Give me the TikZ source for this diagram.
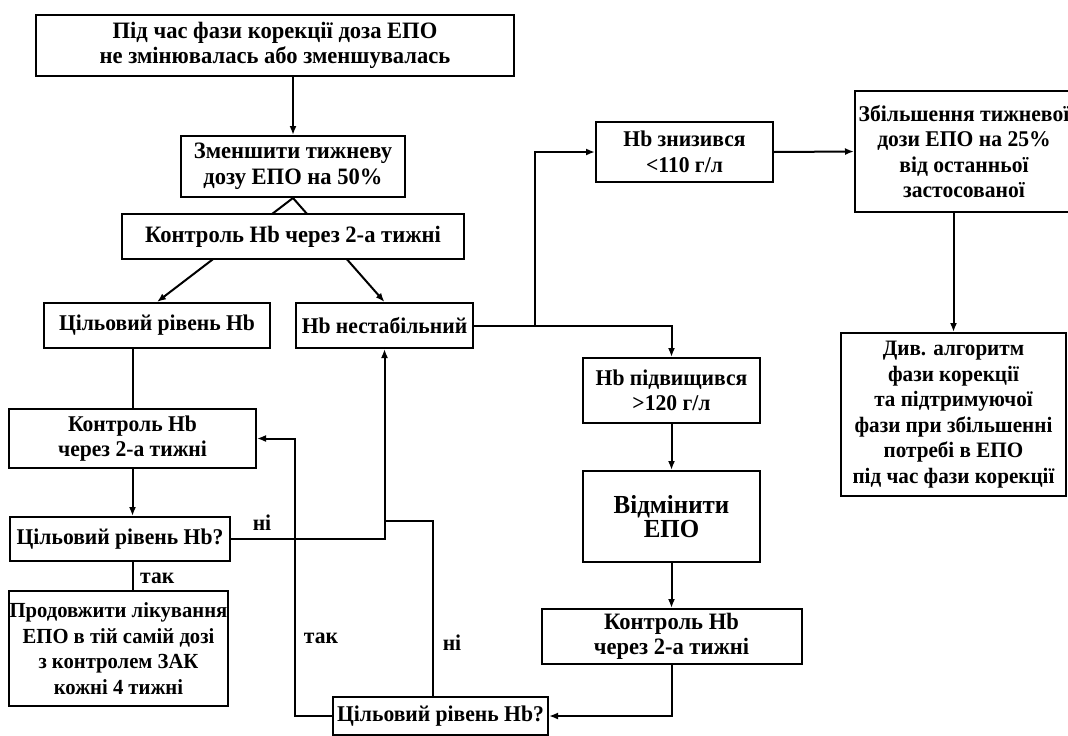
\documentclass[tikz,border=0pt]{standalone}
\usepackage{fontspec}
\setmainfont{Liberation Serif}[FakeStretch=0.96]
\usepackage{tikz}
\usetikzlibrary{arrows.meta, positioning, backgrounds}

\begin{document}
\begin{tikzpicture}[x=1pt, y=-1pt]
\tikzstyle{stepbox} = [rectangle, draw, fill=white, line width=2pt, align=center, inner sep=1pt, font=\bfseries\fontsize{22.5}{25.5}\selectfont]
\tikzstyle{bigtext} = [font=\bfseries\fontsize{23.5}{25.5}\selectfont]
\tikzstyle{arrow} = [line width=2pt, -{Latex[length=9pt,width=7pt]}]
\tikzstyle{link} = [line width=2pt]
\tikzstyle{answer} = [font=\bfseries\fontsize{22.5}{25.5}\selectfont, inner sep=0pt]

\useasboundingbox (0,0) rectangle (1068,736);

\node (top) [stepbox, bigtext, minimum width=478pt, minimum height=61pt] at (275,45.5) {Під час фази корекції доза ЕПО\\не змінювалась або зменшувалась};
\node (cut) [stepbox, bigtext, minimum width=224pt, minimum height=61pt] at (293,166.5) {Зменшити тижневу\\дозу ЕПО на 50\%};
\node (ctrl) [stepbox, bigtext, minimum width=342pt, minimum height=45pt, below=15pt of cut] {Контроль Hb через 2-а тижні};
\node (target) [stepbox, minimum width=226pt, minimum height=45pt] at (157,325.5) {Цільовий рівень Hb};
\node (unstable) [stepbox, minimum width=177pt, minimum height=45pt] at (384.5,325.5) {Hb нестабільний};
\node (drop) [stepbox, minimum width=177pt, minimum height=60pt] at (684.5,152) {Hb знизився\\<110 г/л};
\node (raise) [stepbox, minimum width=218pt, minimum height=121pt] at (964,151.5) {Збільшення тижневої\\дози ЕПО на 25\%\\від останньої\\застосованої};
\node (algo) [stepbox, font=\bfseries\fontsize{22}{25.5}\selectfont, minimum width=225pt, minimum height=163pt] at (953.5,414.5) {Див. алгоритм\\фази корекції\\та підтримуючої\\фази при збільшенні\\потребі в ЕПО\\під час фази корекції};
\node (rise) [stepbox, minimum width=177pt, minimum height=65pt] at (671.5,390.5) {Hb підвищився\\>120 г/л};
\node (cancel) [stepbox, font=\bfseries\fontsize{26}{24}\selectfont, minimum width=177pt, minimum height=91pt, below=46pt of rise] {Відмінити\\ЕПО};
\node (ctrlR) [stepbox, bigtext, minimum width=260pt, minimum height=55pt, below=45pt of cancel] {Контроль Hb\\через 2-а тижні};
\node (checkR) [stepbox, minimum width=215pt, minimum height=38pt] at (440.5,716) {Цільовий рівень Hb?};
\node (ctrlL) [stepbox, minimum width=247pt, minimum height=59pt] at (132.5,438.5) {Контроль Hb\\через 2-а тижні};
\node (checkL) [stepbox, minimum width=220pt, minimum height=44pt] at (120,539) {Цільовий рівень Hb?};
\node (keep) [stepbox, font=\bfseries\fontsize{21.5}{25.5}\selectfont, inner sep=0pt, minimum width=219pt, minimum height=115pt] at (118.5,648.5) {Продовжити лікування\\ЕПО в тій самій дозі\\з контролем ЗАК\\кожні 4 тижні};

\node (noL) [answer] at (262,523) {ні};
\node (yesL) [answer, anchor=west] at (140,578) {так};
\node (yesR) [answer] at (321,638) {так};
\node (noR) [answer] at (452,643) {ні};

\coordinate (fork) at (535,325.5);
\coordinate (merge) at (384.5,521);

\draw [arrow] (top.south -| cut.north) -- (cut.north);
\begin{scope}[on background layer]
\draw [arrow] (cut.south) -- (target.north);
\draw [arrow] (cut.south) -- (unstable.north);
\end{scope}
\draw [link] (unstable.east) -- (fork);
\draw [arrow] (fork) |- (drop.west);
\draw [arrow] (fork) -| (rise.north);
\draw [arrow] (drop.east) -- (raise.west);
\draw [arrow] (raise.south -| algo.north) -- (algo.north);
\draw [arrow] (rise) -- (cancel);
\draw [arrow] (cancel) -- (ctrlR);
\draw [arrow] (ctrlR.south) |- (checkR.east);
\draw [arrow] (checkR.west) -- ++(-37,0) |- (ctrlL.east);
\draw [link] ([xshift=-7.5pt]checkR.north) |- (merge);
\draw [link] (checkL.east) -| (merge);
\draw [arrow] (merge) -- (unstable.south);
\draw [link] (target.south -| ctrlL.north) -- (ctrlL.north);
\draw [arrow] (ctrlL.south) -- (ctrlL.south |- checkL.north);
\draw [link] (checkL.south -| ctrlL.south) -- (keep.north -| ctrlL.south);

\end{tikzpicture}
\end{document}
